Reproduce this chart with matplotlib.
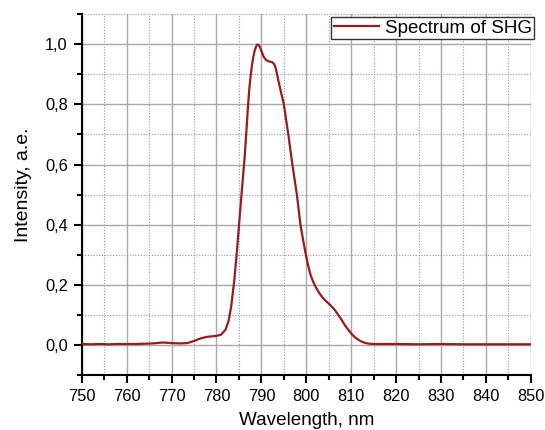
import matplotlib
matplotlib.use("Agg")
import matplotlib.pyplot as plt
from matplotlib.ticker import MultipleLocator, FuncFormatter

plt.rcParams['font.family'] = ['Liberation Sans', 'DejaVu Sans']

wavelength = [750, 752, 754, 756, 758, 760, 762, 764, 766, 768, 770, 772, 773.5,
              775, 776.5, 778, 780, 781, 782, 782.7, 783.3, 784, 784.6, 785.2,
              785.8, 786.3, 786.7, 787.0, 787.3, 787.6, 787.9, 788.2, 788.5, 788.8,
              789.1, 789.4, 789.7, 790.0, 790.3, 790.6, 791.1, 791.5,
              791.9, 792.3, 792.6, 792.9, 793.2, 793.5, 793.8, 794.3, 795.0, 796.0,
              796.9, 797.9, 798.7, 799.4, 799.9, 800.4, 800.9, 801.4, 801.9, 802.5,
              803.0, 803.5, 804.1, 804.8, 805.5, 806.3, 807.1, 807.8, 808.4, 809.0,
              809.7, 810.3, 811.0, 811.8, 812.6, 813.3, 814.0, 815, 816, 820, 825,
              830, 835, 840, 845, 850]
intensity = [0.003, 0.002, 0.003, 0.002, 0.003, 0.003, 0.003, 0.004, 0.005, 0.008, 0.006, 0.005, 0.006,
             0.013, 0.022, 0.027, 0.030, 0.034, 0.050, 0.080, 0.130, 0.220, 0.320, 0.432,
             0.540, 0.630, 0.720, 0.790, 0.850, 0.895, 0.930, 0.958, 0.978, 0.992,
             0.999, 0.998, 0.990, 0.978, 0.966, 0.956, 0.947, 0.944,
             0.942, 0.941, 0.938, 0.932, 0.920, 0.900, 0.878, 0.845, 0.800, 0.700,
             0.600, 0.500, 0.400, 0.340, 0.300, 0.265, 0.235, 0.215, 0.198, 0.182,
             0.170, 0.160, 0.150, 0.140, 0.130, 0.117, 0.100, 0.085, 0.070, 0.057,
             0.044, 0.033, 0.023, 0.015, 0.009, 0.006, 0.004, 0.003, 0.003, 0.003, 0.002,
             0.003, 0.002, 0.002, 0.002, 0.002]

series_label = "Spectrum of SHG"
x_label = "Wavelength, nm"
y_label = "Intensity, a.e."

fig = plt.figure(figsize=(5.45, 4.3), dpi=100)
ax = fig.add_axes([0.150, 0.128, 0.824, 0.839])

ax.plot(wavelength, intensity, color='#981c1c', lw=1.6, label=series_label, zorder=3)

ax.set_xlim(750, 850)
ax.set_ylim(-0.1, 1.1)
ax.xaxis.set_major_locator(MultipleLocator(10))
ax.xaxis.set_minor_locator(MultipleLocator(5))
ax.yaxis.set_major_locator(MultipleLocator(0.2))
ax.yaxis.set_minor_locator(MultipleLocator(0.1))
ax.yaxis.set_major_formatter(FuncFormatter(lambda v, p: f"{v:.1f}".replace('.', ',')))

ax.grid(which='major', color='#a8a8a8', lw=1.0, ls='-', zorder=0)
ax.grid(which='minor', color='#8c8cf0', lw=0.8, ls=(0, (1, 1.5)), zorder=0)
ax.set_axisbelow(True)

for s in ['top', 'right']:
    ax.spines[s].set_visible(False)
for s in ['left', 'bottom']:
    ax.spines[s].set_linewidth(1.5)

ax.tick_params(which='major', direction='out', length=6, width=1.5, labelsize=11.8, pad=4)
ax.tick_params(which='minor', direction='out', length=3.5, width=1.5)

ax.set_xlabel(x_label, fontsize=13.6)
ax.xaxis.set_label_coords(0.5, -0.103)
ax.set_ylabel(y_label, fontsize=14)
ax.yaxis.set_label_coords(-0.11, 0.526)

leg = ax.legend(loc='upper right', bbox_to_anchor=(1.008, 0.993), fontsize=13.5,
                frameon=True, fancybox=False, edgecolor='#333333',
                handlelength=2.4, handletextpad=0.3, borderpad=0.15,
                borderaxespad=0.0)
leg.get_frame().set_linewidth(1.0)
leg.get_frame().set_alpha(1)

fig.savefig("out.png", dpi=100)
